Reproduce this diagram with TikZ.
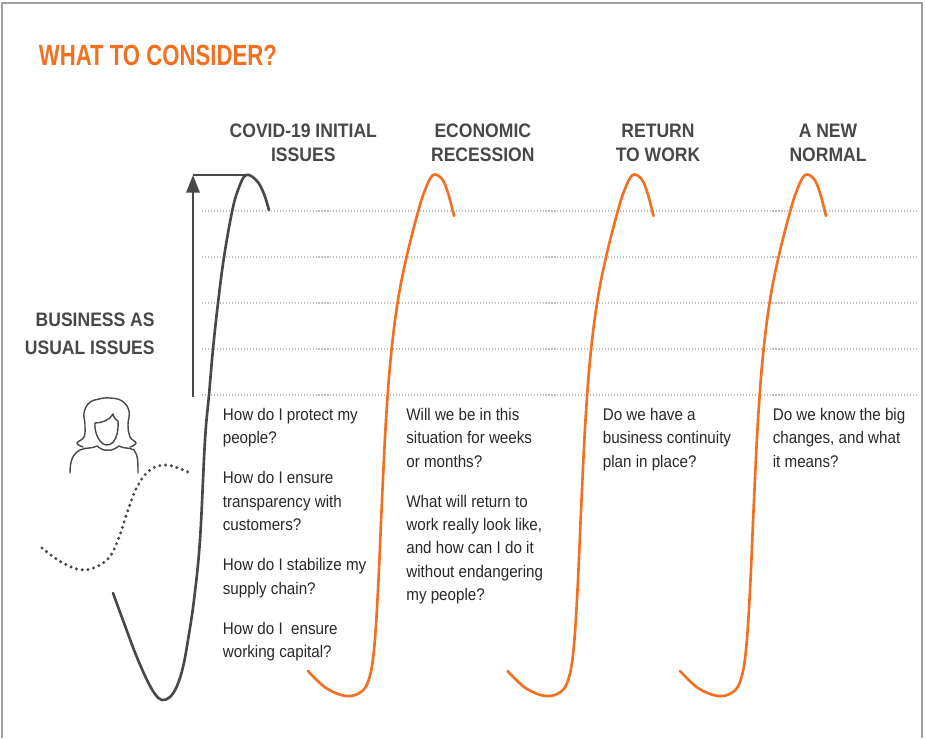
\documentclass[tikz,border=0pt]{standalone}
\usepackage{fontspec}
\setmainfont{Liberation Sans}[FakeStretch=0.9]
\newfontfamily\titlefont{Liberation Sans}[FakeStretch=0.76]
\usetikzlibrary{positioning, arrows.meta}
\definecolor{wtc-orange}{RGB}{243,112,33}
\definecolor{wtc-grey}{RGB}{72,72,72}
\definecolor{wtc-text}{RGB}{40,40,40}
\definecolor{wtc-rule}{RGB}{190,190,190}
\definecolor{wtc-frame}{RGB}{160,160,160}

\begin{document}
\begin{tikzpicture}
    [x=0.02cm, y=-0.02cm,
    head/.style = {align=center, anchor=north, inner sep=0, text=wtc-grey,
            font=\bfseries\fontsize{11.1}{13.8}\selectfont},
    question/.style = {align=left, anchor=north west, inner sep=0, text=wtc-text,
            font=\fontsize{9.6}{13.3}\selectfont},
    wave/.style = {line width=1.5pt, line cap=round, line join=round},
    rule/.style = {wtc-rule, line width=0.6pt, dash pattern=on 0.6pt off 1.1pt},
    icon/.style = {wtc-grey, line width=0.8pt, line cap=round, line join=round},
    ]

    \useasboundingbox (0,0) rectangle (926,738);
    \draw[wtc-frame, line width=0.9pt] (2,738) -- (2,3) -- (922,3) -- (922,738);

    \node[anchor=north west, inner sep=0, text=wtc-orange,
        font=\titlefont\bfseries\fontsize{16.6}{20}\selectfont] (title) at (38.5,45) {WHAT TO CONSIDER?};

    \node[head] (covid) at (303.3,123.3) {COVID-19 INITIAL\\ISSUES};
    \node[head] (recession) at (482.8,123.3) {ECONOMIC\\RECESSION};
    \node[head] (return) at (658,123.3) {RETURN\\TO WORK};
    \node[head] (normal) at (828,123.3) {A NEW\\NORMAL};

    \node[head, align=right, anchor=north east,
        font=\bfseries\fontsize{11.1}{15.9}\selectfont] (bau) at (155,312.7) {BUSINESS AS\\USUAL ISSUES};

    \foreach \y in {211,257,303,349,395}
        \draw[rule] (202,\y) -- (918,\y);

    \coordinate (axis-foot) at (193,397);
    \coordinate (axis-top) at (193,175);
    \coordinate (covid-peak) at (246,175);
    \draw[wtc-grey, line width=1.5pt, -{Triangle[length=10pt, width=7.5pt]}] (axis-foot) -- (axis-top);
    \draw[wtc-grey, line width=1.5pt] (axis-top) -- (covid-peak);

    \draw[wave, wtc-grey] plot[smooth, tension=0.6] coordinates {(113,593) (124,623) (136,655) (147,680)
        (155,694) (162,700) (170,697) (177,686) (183,667) (188,640) (194,600) (200,540) (205,440)
        (209,395) (213,349) (218,303) (224,257) (232,212) (238,190) (246,175) (257,181) (264,194) (269,210)};

    \foreach \dx in {0,199.5,372}
        \draw[wave, wtc-orange, shift={(\dx,0)}] plot[smooth, tension=0.6] coordinates {(308,671) (326,688)
            (346,696) (361,692) (369,679) (374,650) (378,590) (382,500) (386,420) (391,355) (398,300)
            (407,255) (418,212) (425,190) (433,175) (442,179) (448,193) (454,216)};

    \draw[wtc-grey, line width=1.9pt, line cap=round, dash pattern=on 0pt off 3.3pt]
        plot[smooth, tension=0.6] coordinates {(42,548) (63,563) (85,570) (107,560) (118,540) (127,513)
            (137,487) (150,470) (167,465) (188,472)};

    \draw[icon] plot[smooth, tension=0.7] coordinates {(83,447) (77,443) (84,437) (85,425) (84,413)
        (89,403) (99,399) (110,398) (122,401) (129,411) (128,425) (130,437) (136,443) (130,447)};
    \draw[icon] (95,423) .. controls (94,433) and (100,445) .. (107,445)
        .. controls (115,445) and (119,433) .. (118,421);
    \draw[icon] (95,423) .. controls (102,423) and (110,420) .. (113,414)
        .. controls (114,418) and (116,420) .. (118,421);
    \draw[icon] (70,473) .. controls (70,460) and (73,454) .. (80,450)
        .. controls (86,447) and (92,449) .. (97,446) .. controls (101,449) and (104,451) .. (108,450)
        .. controls (112,451) and (116,448) .. (119,446) .. controls (124,449) and (129,447) .. (134,450)
        .. controls (138,455) and (138,462) .. (138,473);

    \node[question] (covid-q) at (222.5,407.7) {How do I protect my\\people?\\[9.6pt]How do I ensure\\transparency with\\customers?\\[9.6pt]How do I stabilize my\\supply chain?\\[9.6pt]How do I~ ensure\\working capital?};
    \node[question] (recession-q) at (406,407.7) {Will we be in this\\situation for weeks\\or months?\\[9.6pt]What will return to\\work really look like,\\and how can I do it\\without endangering\\my people?};
    \node[question] (return-q) at (602.5,407.7) {Do we have a\\business continuity\\plan in place?};
    \node[question] (normal-q) at (772.5,407.7) {Do we know the big\\changes, and what\\it means?};
\end{tikzpicture}
\end{document}
